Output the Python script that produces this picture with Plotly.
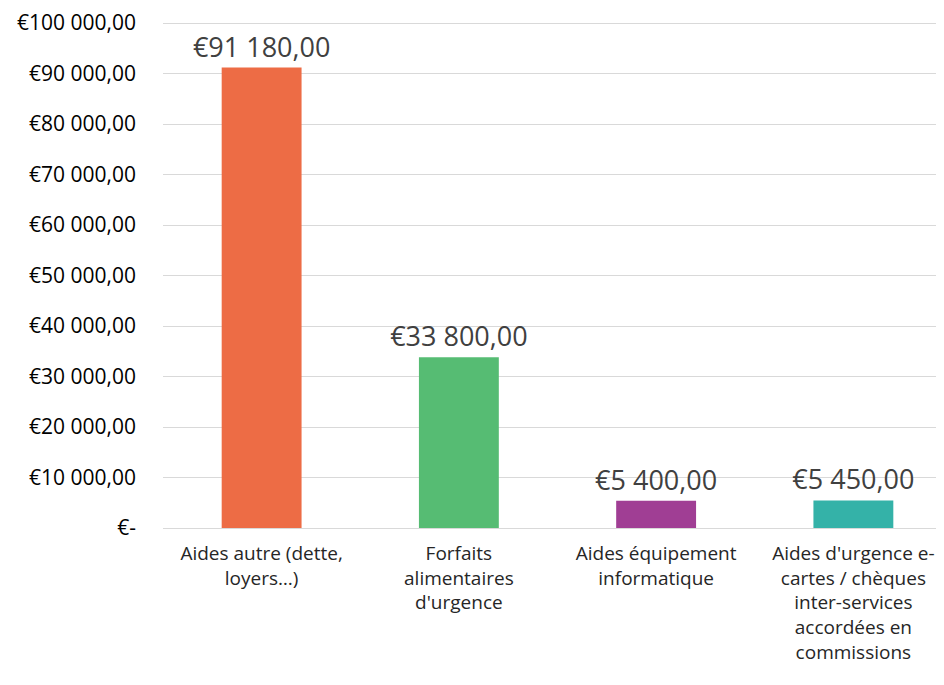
import plotly.graph_objects as go

categories = [
    "Aides autre (dette,<br>loyers…)",
    "Forfaits<br>alimentaires<br>d'urgence",
    "Aides équipement<br>informatique",
    "Aides d'urgence e-<br>cartes / chèques<br>inter-services<br>accordées en<br>commissions",
]
values = [91180, 33800, 5400, 5450]
colors = ["#ED6C45", "#56BC73", "#A03E94", "#34B2A8"]
tick_values = [0, 10000, 20000, 30000, 40000, 50000, 60000, 70000, 80000, 90000, 100000]


def fmt(v):
    if v == 0:
        return "€-"
    s = f"{v:,.2f}".replace(",", " ").replace(".", ",")
    return "€" + s


tick_text = [fmt(v) for v in tick_values]

FONT = "Open Sans"

fig = go.Figure(
    go.Bar(
        x=categories,
        y=values,
        marker=dict(color=colors, line=dict(width=0)),
        texttemplate="€%{y:,.2f}",
        textposition="outside",
        constraintext="none",
        textfont=dict(size=27, color="#404040", family=FONT),
        cliponaxis=False,
    )
)

fig.update_layout(
    width=944,
    height=685,
    margin=dict(l=155, r=0, t=11, b=165),
    paper_bgcolor="white",
    plot_bgcolor="white",
    separators=", ",
    bargap=0.595,
    showlegend=False,
    font=dict(family=FONT, size=16, color="#000000"),
)
fig.update_yaxes(
    range=[0, 100200],
    tickvals=tick_values,
    ticktext=tick_text,
    showgrid=True,
    gridcolor="#D9D9D9",
    gridwidth=1,
    zeroline=False,
    showline=False,
    ticks="",
    ticklabelstandoff=26,
    ticklabeloverflow="allow",
    tickfont=dict(size=21, color="#000000", family=FONT),
)
fig.update_xaxes(
    showgrid=False,
    showline=True,
    linecolor="#D9D9D9",
    linewidth=1,
    ticks="",
    tickangle=0,
    ticklabelstandoff=8,
    ticklabeloverflow="allow",
    tickfont=dict(size=19, color="#262626", family=FONT),
)

fig.write_html("out.html")
